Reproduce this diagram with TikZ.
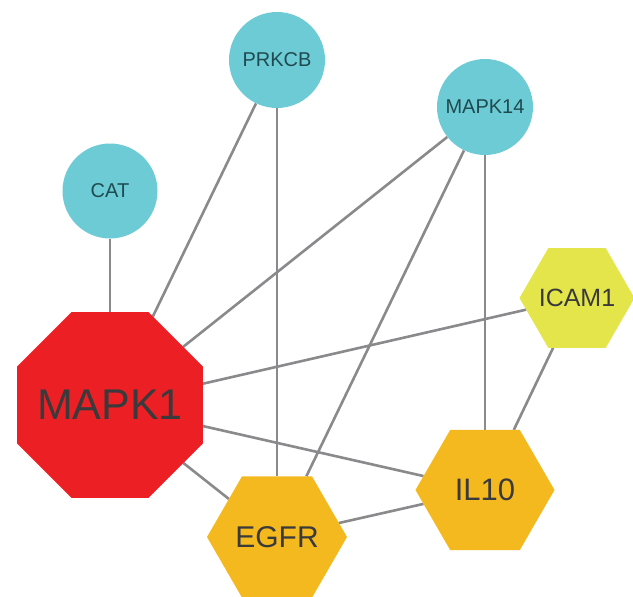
\documentclass[tikz,border=0pt]{standalone}
\usepackage{fontspec}
\setmainfont{Liberation Sans}
\usetikzlibrary{shapes.geometric,backgrounds}
\definecolor{teal node}{HTML}{6DCBD5}
\definecolor{hub red}{HTML}{EC2024}
\definecolor{gene yellow}{HTML}{E3E54A}
\definecolor{gene orange}{HTML}{F4B91E}
\definecolor{edge gray}{HTML}{8A8A8C}
\definecolor{label gray}{HTML}{3A3A3C}
\definecolor{label teal}{HTML}{1F4B50}
\newcommand{\flatlabel}[1]{\makebox[0pt]{#1}}
\begin{document}
\begin{tikzpicture}[x=1pt,y=-1pt,
    circ node/.style={circle,fill=teal node,text=label teal,inner sep=0pt,minimum size=96pt,font=\fontsize{20}{20}\selectfont},
    hex node/.style={regular polygon,regular polygon sides=6,inner sep=0pt,outer sep=0pt,text=label gray},
    link/.style={draw=edge gray,line width=2.6pt}]
        \useasboundingbox (0,0) rectangle (633,597);
        \node[circ node] at (277, 60) (prkcb) {PRKCB};
        \node[circ node] at (485, 107) (mapk14) {MAPK14};
        \node[circ node, minimum size=95pt] at (110, 191) (cat) {CAT};
        \node[regular polygon, regular polygon sides=8, fill=hub red, text=label gray, inner sep=0pt, outer sep=0pt, minimum size=201pt, font=\fontsize{43}{43}\selectfont] at (110, 405) (mapk1) {\flatlabel{MAPK1}};
        \node[hex node, fill=gene yellow, minimum size=115pt, font=\fontsize{25}{25}\selectfont] at (577, 298) (icam1) {\flatlabel{ICAM1}};
        \node[hex node, fill=gene orange, minimum size=139pt, font=\fontsize{31}{31}\selectfont] at (485, 490) (il10) {\flatlabel{IL10}};
        \node[hex node, fill=gene orange, minimum size=140pt, font=\fontsize{30}{30}\selectfont] at (277, 537) (egfr) {\flatlabel{EGFR}};

        \begin{pgfonlayer}{background}
        \path[link]
            (cat) edge (mapk1)
            (prkcb) edge (mapk1)
            (prkcb) edge (egfr)
            (mapk14) edge (mapk1)
            (mapk14) edge (egfr)
            (mapk14) edge (il10)
            (icam1) edge (mapk1)
            (icam1) edge (il10)
            (mapk1) edge (il10)
            (mapk1) edge (egfr)
            (egfr) edge (il10)
            ;
        \end{pgfonlayer}
        \end{tikzpicture}
\end{document}
